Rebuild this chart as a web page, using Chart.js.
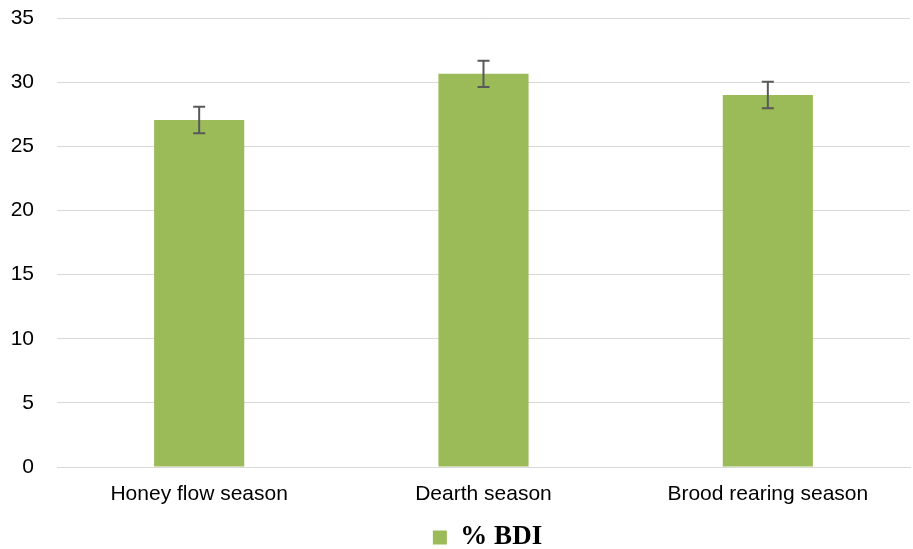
<!DOCTYPE html>
<html lang="en">
<head>
    <meta charset="UTF-8">
    <title>% BDI by season</title>
    <script src="https://cdn.jsdelivr.net/npm/chart.js"></script>
    <style>
        html, body {
            margin: 0;
            padding: 0;
            background: #ffffff;
        }
        #wrap {
            width: 913px;
            height: 549px;
            position: relative;
        }
    </style>
</head>
<body>
    <div id="wrap">
        <canvas id="bdi-chart"></canvas>
    </div>
    <script>
        // Data
        const seasons = ["Honey flow season", "Dearth season", "Brood rearing season"];
        const bdiValues = [27.05, 30.65, 29.0];
        const bdiErrors = [1.03, 1.02, 1.04];
        const yTicks = [0, 5, 10, 15, 20, 25, 30, 35];

        // Draws the vertical error bars with caps on top of each bar
        const errorBarPlugin = {
            id: "errorBars",
            afterDatasetsDraw(chart) {
                const ctx = chart.ctx;
                const meta = chart.getDatasetMeta(0);
                const yScale = chart.scales.y;
                ctx.save();
                ctx.strokeStyle = "#595959";
                ctx.lineWidth = 2;
                meta.data.forEach((bar, i) => {
                    const v = bdiValues[i];
                    const e = bdiErrors[i];
                    const yTop = yScale.getPixelForValue(v + e);
                    const yBot = yScale.getPixelForValue(v - e);
                    const x = bar.x;
                    ctx.beginPath();
                    ctx.moveTo(x, yTop);
                    ctx.lineTo(x, yBot);
                    ctx.moveTo(x - 6, yTop);
                    ctx.lineTo(x + 6, yTop);
                    ctx.moveTo(x - 6, yBot);
                    ctx.lineTo(x + 6, yBot);
                    ctx.stroke();
                });
                ctx.restore();
            }
        };

        // Centre the legend under the plot area and push it a bit lower
        const legendShiftPlugin = {
            id: "legendShift",
            afterLayout(chart) {
                const lg = chart.legend;
                const half = (chart.chartArea.left + chart.chartArea.right) / 2;
                const w = lg.right - lg.left;
                lg.left = half - w / 2 + 4;
                lg.right = lg.left + w;
                lg.top += 12;
                lg.bottom += 12;
            }
        };

        new Chart(document.getElementById("bdi-chart").getContext("2d"), {
            type: "bar",
            data: {
                labels: seasons,
                datasets: [{
                    label: "% BDI",
                    data: bdiValues,
                    backgroundColor: "#9bbb59",
                    borderWidth: 0,
                    categoryPercentage: 1.0,
                    barPercentage: 0.317
                }]
            },
            options: {
                responsive: true,
                maintainAspectRatio: false,
                animation: false,
                layout: {
                    padding: { left: 0, right: 3, top: 18, bottom: 0 }
                },
                plugins: {
                    tooltip: { enabled: false },
                    legend: {
                        position: "bottom",
                        labels: {
                            boxWidth: 14,
                            boxHeight: 14,
                            padding: 1,
                            color: "#000000",
                            font: { family: "'Liberation Serif', 'Times New Roman', serif", size: 27, weight: "bold" }
                        }
                    }
                },
                scales: {
                    x: {
                        grid: { display: false, drawTicks: false },
                        border: { display: true, color: "#d9d9d9", width: 1 },
                        afterFit(axis) { axis.height = 44; },
                        ticks: {
                            color: "#000000",
                            padding: 15,
                            font: { family: "'Liberation Sans', Arial, sans-serif", size: 21 }
                        }
                    },
                    y: {
                        min: 0,
                        max: 35,
                        afterBuildTicks(axis) {
                            axis.ticks = yTicks.map(v => ({ value: v }));
                        },
                        afterFit(axis) { axis.width = 57; },
                        grid: { color: "#d9d9d9", lineWidth: 1, drawTicks: true, tickLength: 23, tickColor: "rgba(0,0,0,0)" },
                        border: { display: false },
                        ticks: {
                            color: "#000000",
                            padding: 0,
                            font: { family: "'Liberation Sans', Arial, sans-serif", size: 21 }
                        }
                    }
                }
            },
            plugins: [errorBarPlugin, legendShiftPlugin]
        });
    </script>
</body>
</html>
